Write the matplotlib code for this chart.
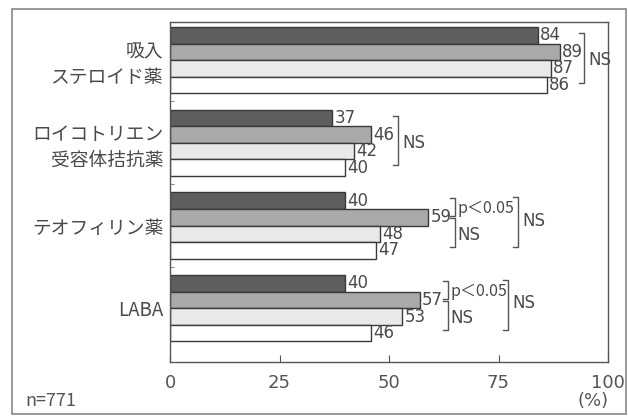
import numpy as np
import matplotlib.pyplot as plt
from matplotlib.patches import Rectangle

plt.rcParams['font.family'] = ['Noto Sans CJK JP', 'DejaVu Sans']

categories = ['吸入\nステロイド薬', 'ロイコトリエン\n受容体拮抗薬', 'テオフィリン薬', 'LABA']
series1 = [84, 37, 40, 40]
series2 = [89, 46, 59, 57]
series3 = [87, 42, 48, 53]
series4 = [86, 40, 47, 46]
xticks = [0, 25, 50, 75, 100]

TXT = '#4a4a4a'
NARROW = ['Liberation Sans Narrow', 'DejaVu Sans']
fig = plt.figure(figsize=(6.28, 4.18), dpi=100)
fig.patches.append(Rectangle((12/628, 4/418), 614/628, 405/418, transform=fig.transFigure,
                             fill=False, edgecolor='#888888', lw=1.2))
ax = fig.add_axes([170/628, 56/418, 438/628, 340/418])

centers = np.arange(len(categories))
h = 0.2
fills = ['#5e5e5e', '#a9a9a9', '#e9e9e9', 'white']
allvals = [series1, series2, series3, series4]
for j, vals in enumerate(allvals):
    ys = centers + (j - 1.5) * h
    ax.barh(ys, vals, height=h, color=fills[j], edgecolor='#3a3a3a', lw=1.0)
    for y, v in zip(ys, vals):
        ax.text(v + 0.5, y, str(v), ha='left', va='center', fontsize=12, color=TXT,
                family=NARROW)

def bracket(x, y0, y1, arm=1.2):
    ax.plot([x - arm, x, x, x - arm], [y0, y0, y1, y1], color='#555555', lw=1.0,
            clip_on=False)

# group 0, 1: single NS bracket
bracket(94.5, centers[0] - 0.33, centers[0] + 0.28)
ax.text(95.5, centers[0], 'NS', va='center', fontsize=12, color=TXT, family=NARROW)
bracket(52, centers[1] - 0.325, centers[1] + 0.265)
ax.text(53, centers[1], 'NS', va='center', fontsize=12, color=TXT, family=NARROW)

# groups 2, 3: inner p<0.05 / NS brackets plus outer NS
for g, xin, xout in [(2, 65.1, 79.5), (3, 63.5, 77.2)]:
    c = centers[g]
    bracket(xin, c - 0.33, c - 0.11)
    bracket(xin, c - 0.09, c + 0.26)
    ax.text(xin + 0.6, c - 0.2, 'p＜0.05', va='center', fontsize=11.5, color=TXT)
    ax.text(xin + 0.6, c + 0.12, 'NS', va='center', fontsize=12, color=TXT, family=NARROW)
    bracket(xout, c - 0.34, c + 0.26)
    ax.text(xout + 0.9, c - 0.06, 'NS', va='center', fontsize=12, color=TXT, family=NARROW)

ax.set_xlim(0, 100)
ax.set_ylim(3.65, -0.46)
ax.set_xticks(xticks)
ax.set_xticklabels([str(t) for t in xticks], fontsize=13, color='#555555', family='DejaVu Sans')
ax.tick_params(axis='x', direction='in', length=5, pad=9, color='#555555')
ax.set_yticks(centers)
ax.set_yticklabels(categories, fontsize=13.5, color=TXT, ha='right', linespacing=1.3)
ax.tick_params(axis='y', length=0, pad=5)
ax.set_yticks([0.5, 1.5, 2.5], minor=True)
ax.tick_params(axis='y', which='minor', direction='in', length=3, color='#777777')
for s in ax.spines.values():
    s.set_color('#555555')
    s.set_linewidth(1.0)

fig.text(25/628, 1 - 401/418, 'n=771', fontsize=13, color='#555555', va='center', ha='left')
fig.text(593/628, 1 - 401/418, '(%)', fontsize=13, color='#555555', va='center', ha='center',
         family='DejaVu Sans')

fig.savefig('out.png', dpi=100)
